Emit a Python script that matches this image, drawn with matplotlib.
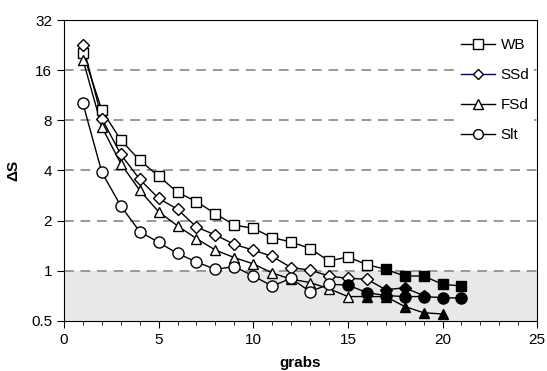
import numpy as np
import matplotlib
matplotlib.use("Agg")
import matplotlib.pyplot as plt
from matplotlib.lines import Line2D

plt.rcParams['font.family'] = ['Liberation Sans', 'DejaVu Sans']

# grabs (x) and delta S values
wb = [20.4, 9.2, 6.1, 4.6, 3.7, 2.96, 2.6, 2.2, 1.88, 1.8, 1.58, 1.49, 1.36,
      1.145, 1.21, 1.09, 1.02, 0.93, 0.93, 0.83, 0.81]
ssd = [22.6, 8.2, 5.0, 3.54, 2.72, 2.34, 1.83, 1.64, 1.44, 1.33, 1.22, 1.045,
       1.01, 0.93, 0.90, 0.89, 0.77, 0.79, 0.71]
fsd = [18.5, 7.3, 4.4, 3.04, 2.26, 1.86, 1.56, 1.33, 1.2, 1.10, 0.97, 0.89,
       0.85, 0.78, 0.70, 0.70, 0.70, 0.61, 0.56, 0.55]
slt = [10.1, 3.9, 2.45, 1.72, 1.48, 1.27, 1.13, 1.02, 1.06, 0.93, 0.81, 0.90,
       0.75, 0.83, 0.82, 0.74, 0.71, 0.70, 0.70, 0.69, 0.685]

# first grab drawn with a filled marker
series = [
    ("WB", wb, "s", 17),
    ("SSd", ssd, "D", 17),
    ("FSd", fsd, "^", 16),
    ("Slt", slt, "o", 15),
]
msize = {"s": 7.5, "D": 6.3, "^": 7.5, "o": 8}

fig = plt.figure(figsize=(5.47, 3.71), dpi=100)
ax = fig.add_axes([0.117, 0.135, 0.865, 0.811])

ax.axhspan(0.5, 1.0, color="#e8e8e8", zorder=0)
for g in [1, 2, 4, 8, 16]:
    ax.axhline(g, color="#999999", lw=1.4, ls=(0, (5, 3.5)), zorder=1)

for name, vals, mk, nfill in series:
    x = np.arange(1, len(vals) + 1)
    y = np.array(vals)
    ax.plot(x, y, color="black", lw=1, zorder=2)
    opn = x < nfill
    ax.plot(x[opn], y[opn], ls="none", marker=mk, ms=msize[mk],
            mfc="white", mec="black", mew=1, zorder=3)
    ax.plot(x[~opn], y[~opn], ls="none", marker=mk, ms=msize[mk],
            mfc="black", mec="black", mew=1, zorder=3)

ax.set_yscale("log", base=2)
ax.set_ylim(0.5, 32)
ax.set_xlim(0, 25)
yt = [0.5, 1, 2, 4, 8, 16, 32]
ax.set_yticks(yt)
ax.set_yticklabels(["0.5", "1", "2", "4", "8", "16", "32"])
ax.yaxis.set_minor_locator(matplotlib.ticker.NullLocator())
ax.set_xticks([0, 5, 10, 15, 20, 25])
ax.set_xticks(np.arange(0, 26, 1), minor=True)
ax.tick_params(axis="both", which="major", labelsize=11, length=5, direction="out")
ax.tick_params(axis="x", which="minor", length=3, direction="out")

ax.set_xlabel("grabs", fontsize=11, fontweight="bold", labelpad=7)
ax.set_ylabel("ΔS", fontsize=11, fontweight="bold", labelpad=8)

handles = []
for name, vals, mk, nfill in series:
    lc = "#000080" if name == "SSd" else "black"
    handles.append(Line2D([], [], color=lc, lw=1, marker=mk, ms=msize[mk] - 1,
                          mfc="white", mec="black", label=name))
leg = ax.legend(handles=handles, loc="upper right", frameon=True, fontsize=11,
                handlelength=2.2, labelspacing=1.05, handletextpad=0.4,
                borderaxespad=0.2, bbox_to_anchor=(1.0, 0.965), fancybox=False,
                borderpad=0.3, framealpha=1)
leg.get_frame().set_edgecolor("none")
leg.get_frame().set_facecolor("white")

fig.savefig("out.png", dpi=100)
